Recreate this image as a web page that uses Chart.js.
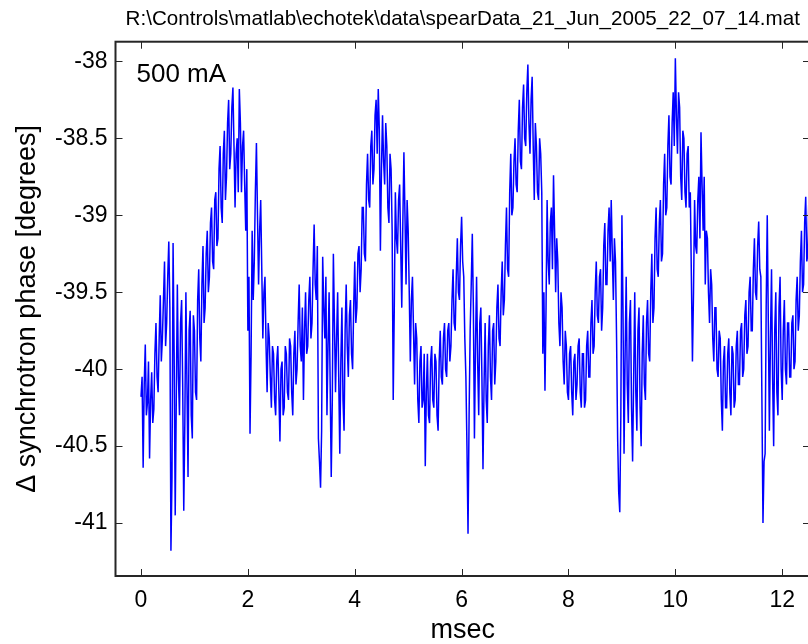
<!DOCTYPE html>
<html>
<head>
<meta charset="utf-8">
<script src="https://cdn.jsdelivr.net/npm/chart.js@4/dist/chart.umd.min.js"></script>
<style>
  html, body { margin: 0; padding: 0; background: #fff; overflow: hidden; }
  #wrap { width: 808px; height: 644px; overflow: hidden; }
</style>
</head>
<body>
<div id="wrap"><canvas id="phase" width="812" height="644"></canvas></div>
<script>
// synchrotron phase record, 500 mA fill
const fileName = "R:\\Controls\\matlab\\echotek\\data\\spearData_21_Jun_2005_22_07_14.mat";
const beamCurrent = "500 mA";

// sample clock (msec)
const sampleStart = 0;
const sampleStep = 0.02;

// phase samples [degrees], 20 per row = 0.4 msec
const phase = [
  -40.18, -40.05, -40.64, -40.10, -39.84, -40.30, -40.22, -39.95, -40.58, -40.20, -40.02, -40.35, -40.26, -39.90, -39.70, -40.05, -40.15, -39.80, -39.52, -39.95,
  -39.80, -39.55, -39.30, -39.85, -39.70, -39.40, -39.17, -39.60, -41.18, -40.70, -39.18, -39.90, -40.95, -40.20, -39.45, -40.05, -40.30, -39.70, -39.55, -40.10,
  -40.92, -40.35, -39.50, -40.10, -40.70, -39.75, -39.62, -40.30, -40.45, -39.65, -39.75, -40.15, -40.20, -39.55, -39.35, -39.80, -39.95, -39.45, -39.20, -39.70,
  -39.60, -39.25, -39.10, -39.50, -39.40, -39.05, -38.95, -39.30, -39.35, -38.90, -38.85, -39.20, -39.15, -38.70, -38.55, -38.95, -39.05, -38.60, -38.45, -38.90,
  -38.75, -38.40, -38.25, -38.70, -38.60, -38.30, -38.17, -38.55, -38.95, -38.60, -38.50, -38.85, -38.18, -38.40, -38.85, -38.55, -38.45, -38.80, -39.10, -38.70,
  -39.75, -39.40, -40.42, -39.90, -39.10, -39.55, -39.30, -38.85, -38.53, -39.00, -39.45, -39.10, -38.90, -39.35, -39.80, -39.50, -39.40, -39.85, -40.15, -39.70,
  -39.80, -40.05, -40.25, -39.85, -39.90, -40.20, -40.30, -39.95, -39.85, -40.15, -40.47, -40.00, -39.95, -40.30, -40.25, -39.85, -39.90, -40.15, -40.20, -39.80,
  -39.85, -40.15, -40.30, -39.90, -39.75, -40.10, -40.00, -39.70, -39.45, -39.85, -39.95, -39.60, -40.20, -39.75, -39.50, -39.90, -39.85, -39.55, -39.40, -39.80,
  -39.70, -39.35, -39.06, -39.45, -39.55, -39.20, -40.45, -40.60, -40.77, -40.40, -39.27, -39.60, -39.80, -39.40, -40.30, -39.85, -39.50, -40.10, -40.70, -40.20,
  -39.25, -39.70, -40.15, -39.80, -39.50, -40.05, -40.55, -39.95, -39.60, -40.20, -40.40, -39.75, -39.45, -39.85, -40.05, -39.65, -39.55, -39.90, -40.00, -39.60,
  -39.30, -39.70, -39.60, -39.25, -39.20, -39.50, -39.35, -38.95, -38.95, -39.25, -39.30, -38.80, -38.60, -38.90, -38.95, -38.55, -38.45, -38.80, -38.70, -38.35,
  -38.25, -38.60, -38.18, -38.45, -39.23, -38.70, -38.35, -38.65, -38.80, -38.40, -38.55, -38.95, -39.05, -38.60, -38.70, -39.10, -40.20, -39.60, -38.85, -39.15,
  -39.25, -38.90, -38.80, -39.20, -39.60, -39.05, -38.59, -39.00, -39.45, -38.90, -39.10, -39.50, -39.95, -39.55, -39.40, -39.75, -40.10, -39.70, -39.80, -40.20,
  -40.35, -39.95, -39.85, -40.25, -40.20, -39.90, -40.63, -40.15, -39.90, -40.30, -40.35, -39.95, -39.85, -40.20, -40.25, -39.90, -39.95, -40.30, -40.40, -39.95,
  -39.75, -40.05, -40.10, -39.80, -39.70, -40.00, -40.05, -39.75, -39.70, -39.95, -39.85, -39.55, -39.35, -39.70, -39.75, -39.40, -39.15, -39.50, -39.55, -39.20,
  -39.01, -39.30, -39.40, -39.80, -40.05, -40.50, -41.07, -40.30, -39.75, -39.45, -39.12, -39.60, -40.45, -39.85, -39.40, -39.95, -40.30, -39.70, -39.60, -40.05,
  -40.65, -40.10, -39.70, -40.20, -40.35, -39.85, -39.65, -40.05, -40.20, -39.75, -39.70, -40.10, -39.95, -39.60, -39.45, -39.80, -39.85, -39.50, -39.30, -39.65,
  -39.55, -39.20, -38.95, -39.35, -39.40, -38.85, -38.60, -39.00, -38.95, -38.65, -38.50, -38.80, -38.85, -38.45, -38.25, -38.65, -38.70, -38.30, -38.15, -38.50,
  -38.55, -38.20, -38.02, -38.40, -38.60, -38.25, -38.10, -38.55, -38.90, -38.40, -38.55, -38.85, -38.90, -38.50, -38.60, -38.85, -39.90, -39.50, -40.14, -39.60,
  -38.90, -39.30, -39.45, -39.05, -38.95, -39.35, -38.74, -39.10, -39.50, -39.15, -39.30, -39.70, -39.85, -39.50, -39.60, -39.95, -40.10, -39.75, -39.85, -40.15,
  -40.20, -39.90, -39.85, -40.15, -40.30, -39.95, -39.90, -40.20, -40.10, -39.85, -39.80, -40.15, -40.25, -39.90, -39.90, -40.25, -40.20, -39.85, -39.75, -40.05,
  -40.05, -39.70, -39.55, -39.90, -39.85, -39.50, -39.30, -39.65, -39.70, -39.40, -39.35, -39.75, -39.60, -39.20, -39.05, -39.45, -39.45, -39.10, -38.95, -39.30,
  -38.90, -39.25, -39.55, -39.15, -39.30, -39.80, -40.45, -40.80, -40.93, -40.30, -39.00, -39.60, -40.55, -39.90, -39.40, -40.10, -40.35, -39.70, -39.55, -40.25,
  -40.60, -40.05, -39.50, -40.15, -40.40, -39.75, -39.60, -40.25, -40.50, -39.90, -39.65, -40.10, -40.20, -39.70, -39.55, -39.90, -39.95, -39.50, -39.25, -39.70,
  -39.60, -39.15, -38.95, -39.35, -39.40, -39.05, -38.90, -39.30, -39.25, -38.80, -38.60, -39.00, -38.95, -38.55, -38.35, -38.75, -38.80, -38.40, -38.20, -38.55,
  -37.98, -38.35, -38.60, -38.20, -38.30, -38.75, -38.90, -38.45, -38.50, -38.85, -38.95, -38.60, -38.55, -38.95, -38.85, -39.40, -39.95, -39.50, -38.90, -39.20,
  -39.25, -38.90, -38.75, -39.15, -38.46, -38.80, -39.10, -38.75, -39.45, -39.10, -39.15, -39.50, -39.70, -39.35, -39.45, -39.80, -39.95, -39.60, -39.60, -40.00,
  -40.05, -39.75, -39.80, -40.20, -40.40, -39.95, -39.85, -40.25, -40.25, -39.90, -39.80, -40.15, -40.30, -39.85, -39.90, -40.25, -40.20, -39.85, -39.75, -40.10,
  -40.10, -39.75, -39.70, -40.05, -40.00, -39.65, -39.55, -39.90, -39.85, -39.50, -39.40, -39.75, -39.75, -39.35, -39.15, -39.50, -39.55, -39.20, -39.04, -39.35,
  -39.40, -40.20, -41.00, -40.60, -40.55, -39.60, -39.00, -39.70, -40.40, -39.80, -39.35, -40.05, -40.50, -39.75, -39.50, -40.15, -40.30, -39.60, -39.40, -40.00,
  -40.20, -39.75, -39.55, -40.00, -40.10, -39.70, -39.70, -40.05, -40.05, -39.70, -39.65, -40.00, -39.95, -39.55, -39.40, -39.75, -39.65, -39.30, -39.10, -39.50,
  -39.45, -39.05, -38.88, -39.30, -39.25, -38.85, -38.90
];

const xTicks = [0, 2, 4, 6, 8, 10, 12];
const yTicks = [-41, -40.5, -40, -39.5, -39, -38.5, -38];

const points = phase.map((v, i) => ({ x: sampleStart + i * sampleStep, y: v }));

const fontFamily = "'Liberation Sans', Arial, Helvetica, sans-serif";
Chart.defaults.font.family = fontFamily;
Chart.defaults.color = "#000";

// matlab style axes box: frame on all four sides, ticks pointing inward
const axesBox = {
  id: "axesBox",
  afterDatasetsDraw(chart) {
    const { ctx, chartArea: a, scales } = chart;
    const tick = 7;
    ctx.save();
    ctx.strokeStyle = "#262626";
    ctx.lineWidth = 1;
    ctx.beginPath();
    xTicks.forEach((t) => {
      const px = Math.round(scales.x.getPixelForValue(t)) + 0.5;
      ctx.moveTo(px, a.bottom);
      ctx.lineTo(px, a.bottom - tick);
      ctx.moveTo(px, a.top);
      ctx.lineTo(px, a.top + tick);
    });
    yTicks.forEach((t) => {
      const py = Math.round(scales.y.getPixelForValue(t)) + 0.5;
      ctx.moveTo(a.left, py);
      ctx.lineTo(a.left + tick, py);
      ctx.moveTo(a.right, py);
      ctx.lineTo(a.right - tick, py);
    });
    ctx.stroke();
    ctx.lineWidth = 2;
    ctx.strokeRect(a.left, a.top, a.right - a.left, a.bottom - a.top);

    ctx.fillStyle = "#000";
    ctx.font = "26px " + fontFamily;
    ctx.textAlign = "left";
    ctx.textBaseline = "alphabetic";
    ctx.fillText(beamCurrent, a.left + 21, a.top + 40);
    ctx.restore();
  }
};

new Chart(document.getElementById("phase"), {
  type: "line",
  data: {
    datasets: [
      {
        data: points,
        borderColor: "#0000ff",
        borderWidth: 1.5,
        pointRadius: 0,
        tension: 0,
        fill: false,
      },
    ],
  },
  options: {
    responsive: false,
    animation: false,
    events: [],
    layout: { padding: { left: 0, right: 2, top: 0, bottom: 0 } },
    plugins: {
      legend: { display: false },
      tooltip: { enabled: false },
      title: {
        display: true,
        text: fileName,
        fullSize: false,
        color: "#000",
        font: { size: 20.6, weight: "normal", lineHeight: 1.2 },
        padding: { top: 7, bottom: 10 },
      },
    },
    scales: {
      x: {
        type: "linear",
        min: -0.4775,
        max: 12.52,
        afterBuildTicks: (s) => { s.ticks = xTicks.map((v) => ({ value: v })); },
        afterFit: (s) => { s.height = 68; },
        grid: { display: false, drawTicks: false },
        border: { display: false },
        ticks: {
          font: { size: 23 },
          padding: 11,
          maxRotation: 0,
          autoSkip: false,
          callback: (v) => String(v),
        },
        title: {
          display: true,
          text: "msec",
          font: { size: 27, lineHeight: 1 },
          padding: { top: 0, bottom: 0 },
        },
      },
      y: {
        type: "linear",
        min: -41.344,
        max: -37.872,
        afterBuildTicks: (s) => { s.ticks = yTicks.map((v) => ({ value: v })); },
        afterFit: (s) => { s.width = 115.5; },
        grid: { display: false, drawTicks: false },
        border: { display: false },
        ticks: {
          font: { size: 23 },
          padding: 8,
          autoSkip: false,
          callback: (v) => String(v),
        },
        title: {
          display: true,
          text: "\u0394 synchrotron phase [degrees]",
          font: { size: 27, lineHeight: 1 },
          padding: { top: 14, bottom: 0 },
        },
      },
    },
  },
  plugins: [axesBox],
});
</script>
</body>
</html>
